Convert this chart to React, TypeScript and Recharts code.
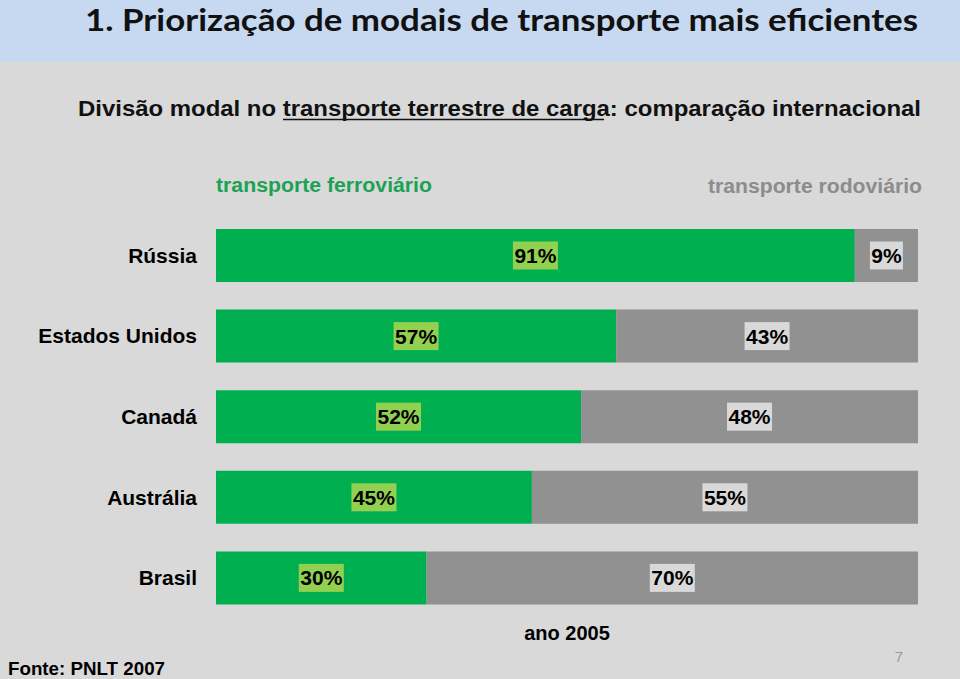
import React from 'react';
import { BarChart, Bar, XAxis, YAxis, LabelList } from 'recharts';

// modal split of land freight, 2005 (PNLT 2007)
const countries = ['Rússia', 'Estados Unidos', 'Canadá', 'Austrália', 'Brasil'];
const ferroviario = [91, 57, 52, 45, 30];
const rodoviario = [9, 43, 48, 55, 70];

const GREEN = '#00B050';
const GRAY = '#919191';
const SANS = '"Liberation Sans", Arial, sans-serif';

const chartData = countries.map((name, i) => ({
  name,
  ferro: ferroviario[i],
  rodo: rodoviario[i],
}));

// value label with a small filled box behind it, centred in the segment
const boxLabel = (boxFill: string) => (props: any) => {
  const { x, y, width, height, value } = props;
  const text = `${value}%`;
  const cx = x + width / 2;
  const cy = y + height / 2;
  const w = text.length * 12 + 9;
  return (
    <g>
      <rect x={cx - w / 2} y={cy - 14} width={w} height={28} fill={boxFill} />
      <text
        x={cx}
        y={cy + 7.5}
        textAnchor="middle"
        fontFamily={SANS}
        fontSize={21}
        fontWeight="bold"
        fill="#000"
      >
        {text}
      </text>
    </g>
  );
};

export default function App() {
  return (
    <div
      style={{
        position: 'fixed',
        left: 0,
        top: 0,
        width: 960,
        height: 679,
        background: '#D9D9D9',
        overflow: 'hidden',
      }}
    >
      <svg width={960} height={679} style={{ position: 'absolute', left: 0, top: 0 }}>
        <rect x={0} y={0} width={960} height={62} fill="#C6D9F0" />
        <text
          x={85}
          y={31}
          fontFamily="Lato, 'Open Sans', sans-serif"
          fontSize={31}
          fontWeight="bold"
          fill="#111"
          textLength={833}
          lengthAdjust="spacingAndGlyphs"
        >
          1. Priorização de modais de transporte mais eficientes
        </text>
        <text
          x={78}
          y={116}
          fontFamily={SANS}
          fontSize={22}
          fontWeight="bold"
          fill="#111"
          textLength={843}
          lengthAdjust="spacingAndGlyphs"
        >
          Divisão modal no transporte terrestre de carga: comparação internacional
        </text>
        <line x1={283} x2={604} y1={119.5} y2={119.5} stroke="#111" strokeWidth={1.5} />
        <text
          x={216}
          y={192}
          fontFamily={SANS}
          fontSize={20}
          fontWeight="bold"
          fill="#1BA254"
          textLength={216}
          lengthAdjust="spacingAndGlyphs"
        >
          transporte ferroviário
        </text>
        <text
          x={708}
          y={193}
          fontFamily={SANS}
          fontSize={20}
          fontWeight="bold"
          fill="#8C8C8C"
          textLength={214}
          lengthAdjust="spacingAndGlyphs"
        >
          transporte rodoviário
        </text>
        <text
          x={567}
          y={640}
          textAnchor="middle"
          fontFamily={SANS}
          fontSize={20}
          fontWeight="bold"
          fill="#000"
        >
          ano 2005
        </text>
        <text
          x={8}
          y={675}
          fontFamily={SANS}
          fontSize={18}
          fontWeight="bold"
          fill="#000"
          textLength={157}
          lengthAdjust="spacingAndGlyphs"
        >
          Fonte: PNLT 2007
        </text>
        <text x={899} y={662} textAnchor="middle" fontFamily={SANS} fontSize={15} fill="#999">
          7
        </text>
      </svg>
      <div style={{ position: 'absolute', left: 0, top: 0 }}>
        <BarChart
          width={960}
          height={679}
          data={chartData}
          layout="vertical"
          margin={{ top: 215, right: 42, bottom: 61, left: 0 }}
          barSize={53}
        >
          <XAxis type="number" domain={[0, 100]} hide />
          <YAxis
            type="category"
            dataKey="name"
            width={216}
            tickLine={false}
            axisLine={false}
            tickMargin={13}
            tick={{ fill: '#000', fontSize: 21, fontWeight: 'bold', fontFamily: SANS }}
          />
          <Bar dataKey="ferro" stackId="a" fill={GREEN} isAnimationActive={false}>
            <LabelList dataKey="ferro" content={boxLabel('#92D050')} />
          </Bar>
          <Bar dataKey="rodo" stackId="a" fill={GRAY} isAnimationActive={false}>
            <LabelList dataKey="rodo" content={boxLabel('#D9D9D9')} />
          </Bar>
        </BarChart>
      </div>
    </div>
  );
}
